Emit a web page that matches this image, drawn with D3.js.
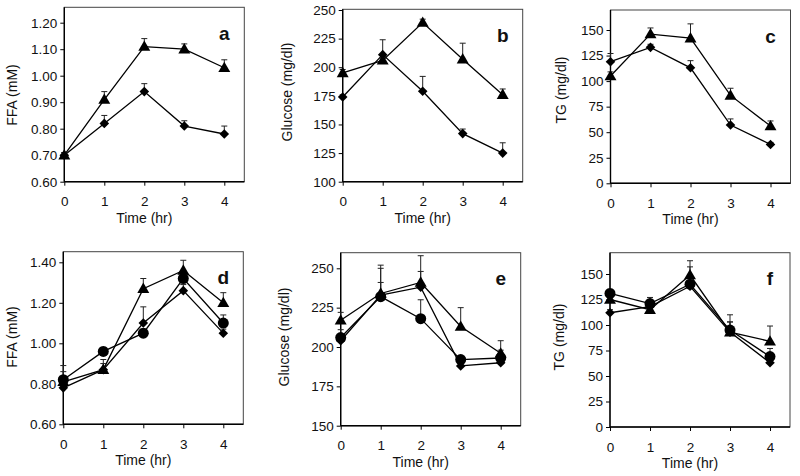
<!DOCTYPE html>
<html>
<head>
<meta charset="utf-8">
<script src="https://cdn.jsdelivr.net/npm/d3@7/dist/d3.min.js"></script>
<style>
  html, body { margin: 0; padding: 0; background: #fff; }
  svg { display: block; }
  text { font-family: "Liberation Sans", Arial, sans-serif; fill: #111; }
</style>
</head>
<body>
<script>
// ---------- data ----------
const hours = [0, 1, 2, 3, 4];
const xTicks = [0, 1, 2, 3, 4];

const ffaTicksTop = [0.60, 0.70, 0.80, 0.90, 1.00, 1.10, 1.20];
const gluTicksTop = [100, 125, 150, 175, 200, 225, 250];
const tgTicks = [0, 25, 50, 75, 100, 125, 150];
const ffaTicksBottom = [0.60, 0.80, 1.00, 1.20, 1.40];
const gluTicksBottom = [150, 175, 200, 225, 250];

// panel a
const aTriangle = [0.70, 0.91, 1.11, 1.10, 1.03];
const aTriangleSE = [0.01, 0.03, 0.03, 0.02, 0.03];
const aDiamond = [0.70, 0.82, 0.94, 0.81, 0.78];
const aDiamondSE = [0.01, 0.03, 0.03, 0.02, 0.03];
// panel b
const bTriangle = [195, 206, 239, 207, 176];
const bTriangleSE = [3, 2, 3, 14, 5];
const bDiamond = [174, 211, 179, 142, 125];
const bDiamondSE = [2, 13, 13, 4, 9];
// panel c
const cTriangle = [105, 146, 142, 86, 56];
const cTriangleSE = [4, 6, 14, 7, 5];
const cDiamond = [119, 133, 113, 57, 38];
const cDiamondSE = [8, 3, 7, 6, 2];
// panel d
const dTriangle = [0.81, 0.87, 1.27, 1.36, 1.20];
const dTriangleSE = [0.08, 0.05, 0.05, 0.05, 0.05];
const dCircle = [0.82, 0.96, 1.05, 1.32, 1.10];
const dCircleSE = [0.04, 0.02, 0.02, 0.03, 0.04];
const dDiamond = [0.78, 0.87, 1.10, 1.26, 1.05];
const dDiamondSE = [0.03, 0.03, 0.08, 0.03, 0.02];
// panel e
const eTriangle = [217, 234, 241, 213, 196];
const eTriangleSE = [5, 18, 17, 12, 8];
const eCircle = [206, 232, 218, 192, 193];
const eCircleSE = [5, 9, 12, 2, 5];
const eDiamond = [204, 233, 238, 188, 190];
const eDiamondSE = [3, 17, 10, 2, 2];
// panel f
const fTriangle = [125, 115, 149, 93, 84];
const fTriangleSE = [5, 5, 14, 17, 15];
const fCircle = [131, 121, 140, 95, 69];
const fCircleSE = [4, 6, 6, 8, 8];
const fDiamond = [112, 118, 138, 93, 63];
const fDiamondSE = [3, 4, 19, 10, 3];

const panelLetters = ["a", "b", "c", "d", "e", "f"];
const yTitles = ["FFA (mM)", "Glucose (mg/dl)", "TG (mg/dl)", "FFA (mM)", "Glucose (mg/dl)", "TG (mg/dl)"];
const xTitle = "Time (hr)";

// ---------- layout (positions only) ----------
const W = 800, H = 476;
const layout = [
  { l: 64.3, t: 7.3, r: 244.3, b: 181.7, yMin: 0.60, tickTop: 1.20, tickTopPx: 22.7, ytx: 12, yty: 95 },
  { l: 342.7, t: 9.3, r: 522.7, b: 181.7, yMin: 100, tickTop: 250, tickTopPx: 10, ytx: 287.5, yty: 92 },
  { l: 610.5, t: 10, r: 790.5, b: 183.3, yMin: 0, tickTop: 150, tickTopPx: 30, ytx: 561, yty: 90 },
  { l: 63.3, t: 251.7, r: 243.3, b: 424.3, yMin: 0.60, tickTop: 1.40, tickTopPx: 262.3, ytx: 11.7, yty: 337 },
  { l: 340.7, t: 252.7, r: 520.7, b: 425.7, yMin: 150, tickTop: 250, tickTopPx: 268.3, ytx: 284, yty: 337 },
  { l: 610, t: 252.7, r: 790, b: 427, yMin: 0, tickTop: 150, tickTopPx: 274, ytx: 559, yty: 337 }
];

const panelSeries = [
  [ { shape: "triangle", v: aTriangle, se: aTriangleSE }, { shape: "diamond", v: aDiamond, se: aDiamondSE } ],
  [ { shape: "triangle", v: bTriangle, se: bTriangleSE }, { shape: "diamond", v: bDiamond, se: bDiamondSE } ],
  [ { shape: "triangle", v: cTriangle, se: cTriangleSE }, { shape: "diamond", v: cDiamond, se: cDiamondSE } ],
  [ { shape: "triangle", v: dTriangle, se: dTriangleSE }, { shape: "circle", v: dCircle, se: dCircleSE }, { shape: "diamond", v: dDiamond, se: dDiamondSE } ],
  [ { shape: "triangle", v: eTriangle, se: eTriangleSE }, { shape: "circle", v: eCircle, se: eCircleSE }, { shape: "diamond", v: eDiamond, se: eDiamondSE } ],
  [ { shape: "triangle", v: fTriangle, se: fTriangleSE }, { shape: "circle", v: fCircle, se: fCircleSE }, { shape: "diamond", v: fDiamond, se: fDiamondSE } ]
];
const panelTicks = [ffaTicksTop, gluTicksTop, tgTicks, ffaTicksBottom, gluTicksBottom, tgTicks];
const panelFormats = [d3.format(".2f"), d3.format("d"), d3.format("d"), d3.format(".2f"), d3.format("d"), d3.format("d")];

const svg = d3.select("body").append("svg").attr("width", W).attr("height", H);

const symbols = {
  triangle: d3.symbol().type(d3.symbolTriangle).size(62)(),
  circle: d3.symbol().type(d3.symbolCircle).size(95)(),
  diamond: d3.symbol().type(d3.symbolSquare).size(46)()
};

layout.forEach((L, i) => {
  const g = svg.append("g");
  const x = d3.scaleLinear().domain([0, 4.5]).range([L.l, L.r]);
  const y = d3.scaleLinear().domain([L.yMin, L.tickTop]).range([L.b, L.tickTopPx]);

  // plot-area frame
  g.append("rect")
    .attr("x", L.l).attr("y", L.t)
    .attr("width", L.r - L.l).attr("height", L.b - L.t)
    .attr("fill", "none").attr("stroke", "#444").attr("stroke-width", 1);

  // y axis
  const yAxis = d3.axisLeft(y).tickValues(panelTicks[i]).tickFormat(panelFormats[i])
    .tickSize(4).tickPadding(3).tickSizeOuter(0);
  const ya = g.append("g").attr("transform", `translate(${L.l},0)`).call(yAxis);
  ya.select(".domain").remove();
  ya.append("line").attr("x1", 0).attr("x2", 0).attr("y1", L.t).attr("y2", L.b)
    .attr("stroke", "#000").attr("stroke-width", 1.4);
  ya.selectAll("text").attr("font-size", 13.5).attr("font-family", "Liberation Sans, Arial, sans-serif").attr("fill", "#111");
  ya.selectAll(".tick line").attr("stroke", "#000");

  // x axis
  const xAxis = d3.axisBottom(x).tickValues(xTicks).tickFormat(d3.format("d"))
    .tickSize(4).tickPadding(11).tickSizeOuter(0);
  const xa = g.append("g").attr("transform", `translate(0,${L.b})`).call(xAxis);
  xa.select(".domain").remove();
  xa.append("line").attr("x1", L.l).attr("x2", L.r).attr("y1", 0).attr("y2", 0)
    .attr("stroke", "#000").attr("stroke-width", 1.4);
  xa.selectAll("text").attr("font-size", 13.5).attr("font-family", "Liberation Sans, Arial, sans-serif").attr("fill", "#111");
  xa.selectAll(".tick line").attr("stroke", "#000");

  // titles
  g.append("text")
    .attr("x", (x(0) + x(4)) / 2).attr("y", L.b + 36).attr("dy", "0.35em")
    .attr("text-anchor", "middle").attr("font-size", 14).text(xTitle);
  g.append("text")
    .attr("transform", `translate(${L.ytx},${L.yty}) rotate(-90)`)
    .attr("dy", "0.35em").attr("text-anchor", "middle").attr("font-size", 14)
    .text(yTitles[i]);

  // panel letter
  g.append("text")
    .attr("x", x(4)).attr("y", L.t + 26).attr("dy", "0.35em")
    .attr("text-anchor", "middle").attr("font-size", 19).attr("font-weight", "bold")
    .text(panelLetters[i]);

  const line = d3.line().x((d, k) => x(hours[k])).y(d => y(d));
  const series = panelSeries[i];

  // lines
  series.forEach(s => {
    g.append("path").attr("d", line(s.v)).attr("fill", "none")
      .attr("stroke", "#000").attr("stroke-width", 1.3);
  });
  // error bars (upward)
  series.forEach(s => {
    s.v.forEach((v, k) => {
      const cx = x(hours[k]), y0 = y(v), y1 = y(v + s.se[k]);
      g.append("line").attr("x1", cx).attr("x2", cx).attr("y1", y0).attr("y2", y1)
        .attr("stroke", "#222").attr("stroke-width", 1);
      g.append("line").attr("x1", cx - 3).attr("x2", cx + 3).attr("y1", y1).attr("y2", y1)
        .attr("stroke", "#222").attr("stroke-width", 1);
    });
  });
  // markers
  series.forEach(s => {
    s.v.forEach((v, k) => {
      const rot = s.shape === "diamond" ? " rotate(45)" : "";
      const dy = s.shape === "triangle" ? 0.8 : 0;
      g.append("path").attr("d", symbols[s.shape])
        .attr("transform", `translate(${x(hours[k])},${y(v) + dy})${rot}`)
        .attr("fill", "#000");
    });
  });
});
</script>
</body>
</html>
